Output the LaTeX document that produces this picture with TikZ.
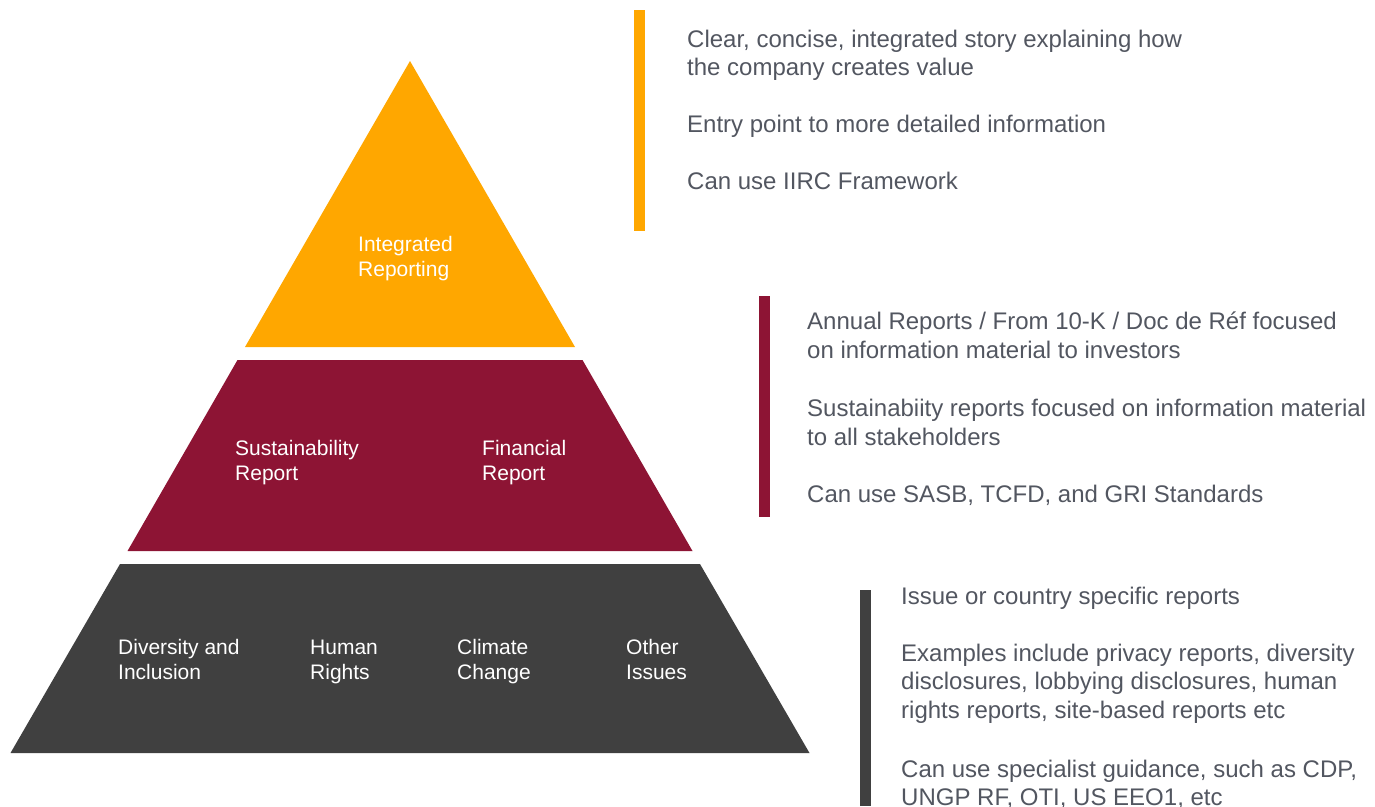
\documentclass[tikz,border=0pt]{standalone}
\usepackage{fontspec}
\setmainfont{Liberation Sans}
\definecolor{pyorange}{RGB}{255,167,0}
\definecolor{pyred}{RGB}{141,20,52}
\definecolor{pygray}{RGB}{64,64,64}
\definecolor{txtgray}{RGB}{82,86,96}
\tikzset{
  desc/.style={anchor=base west, inner sep=0pt, align=left, text=txtgray,
    font=\fontsize{24}{28.5}\selectfont},
  lbl/.style={anchor=base west, inner sep=0pt, align=left, text=white,
    font=\fontsize{21}{25.5}\selectfont}
}
\begin{document}
\begin{tikzpicture}[x=1pt,y=-1pt]
\useasboundingbox (0,0) rectangle (1375,806);
% pyramid
\fill[pyorange] (410,61) -- (575,347) -- (245,347) -- cycle;
\fill[pyred] (237.5,360) -- (582.5,360) -- (692.5,551) -- (127.5,551) -- cycle;
\fill[pygray] (120,564) -- (700,564) -- (809.5,753) -- (10.5,753) -- cycle;
% pyramid labels (anchor = baseline of last line)
\node[lbl] (ir) at (358,276.5) {Integrated\\Reporting};
\node[lbl] (sr) at (235,480.5) {Sustainability\\Report};
\node[lbl] (fr) at (482,480.5) {Financial\\Report};
\node[lbl] (di) at (118,679.5) {Diversity and\\Inclusion};
\node[lbl] (hr) at (310,679.5) {Human\\Rights};
\node[lbl] (cc) at (457,679.5) {Climate\\Change};
\node[lbl] (oi) at (626,679.5) {Other\\Issues};
% bars
\fill[pyorange] (634,10) rectangle (645,231);
\fill[pyred] (759,296) rectangle (770,517);
\fill[pygray] (860,590) rectangle (871,806);
% descriptions (anchor = baseline of last line)
\node[desc] (t1) at (687,75.5) {Clear, concise, integrated story explaining how\\the company creates value};
\node[desc] (t2) at (687,132.5) {Entry point to more detailed information};
\node[desc] (t3) at (687,189.5) {Can use IIRC Framework};
\node[desc] (m1) at (807,358) {Annual Reports / From 10-K / Doc de Réf focused\\on information material to investors};
\node[desc] (m2) at (807,445) {Sustainabiity reports focused on information material\\to all stakeholders};
\node[desc] (m3) at (807,502) {Can use SASB, TCFD, and GRI Standards};
\node[desc] (b1) at (901,604) {Issue or country specific reports};
\node[desc] (b2) at (901,718) {Examples include privacy reports, diversity\\disclosures, lobbying disclosures, human\\rights reports, site-based reports etc};
\node[desc] (b3) at (901,805.5) {Can use specialist guidance, such as CDP,\\UNGP RF, OTI, US EEO1, etc};
\end{tikzpicture}
\end{document}
